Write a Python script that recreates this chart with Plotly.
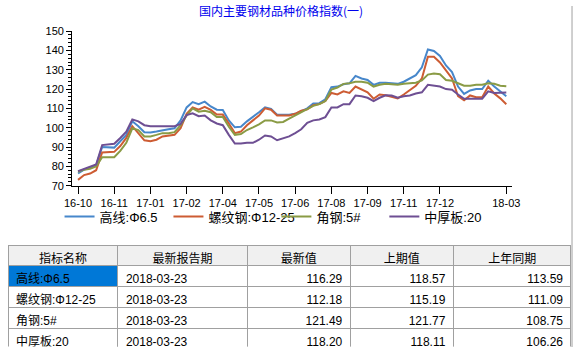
import plotly.graph_objects as go

# ---------------- data ----------------
series_names = ["高线:Φ6.5", "螺纹钢:Φ12-25", "角钢:5#", "中厚板:20"]

gaoxian = [76.3, 78.3, 79.3, 80.5, 90, 89.7, 89.7, 93, 96.3, 103.3, 100.8, 97.7, 97.5, 98, 98.8, 99.2,
           99.7, 103.8, 110.5, 113.3, 112.2, 113.5, 111, 109.3, 109.2, 103.8, 100.2, 100.5, 103.3, 105.5,
           108, 110.5, 109.7, 106.7, 106.7, 106.7, 107.2, 108.8, 110, 112.5, 112.7, 114.7, 121, 121.3,
           122.5, 123, 126.8, 125.5, 124.7, 122.2, 123.3, 123.3, 123, 122.7, 123.8, 125.5, 127.2, 131.3,
           140.5, 139.7, 137.2, 132.2, 128.8, 121.3, 117.5, 119.3, 120, 120, 124.3, 121.3, 118.57, 116.29]

luowen = [73, 75.5, 76.3, 78, 87.2, 87.5, 87.5, 90.5, 94.7, 100.8, 97.2, 93.5, 93, 93.8, 95.5, 96,
          96.3, 99.7, 107.2, 110.5, 109.3, 110.8, 109.2, 106.8, 106.8, 102.2, 97.2, 98, 101.3, 103.8,
          106.3, 110, 109.3, 106.3, 106.3, 106.3, 107.2, 108.8, 109.5, 111.7, 112.2, 113.8, 118, 117.2,
          118.8, 118, 121.3, 120, 118.3, 115, 117.2, 116.8, 116, 115.2, 117.2, 119.3, 121.7, 125.5,
          136.7, 136.7, 133.8, 129.7, 125.5, 116.3, 114.2, 116.7, 115.8, 115.8, 121.3, 117.7, 115.19, 112.18]

jiaogang = [77.2, 78.3, 78.8, 80, 84.7, 84.7, 84.7, 88, 92.2, 99.7, 98.8, 95.5, 95.5, 96.3, 97.2, 97.2,
            97.7, 101.3, 106.3, 110, 108.3, 108.8, 108, 105.5, 105.5, 100.5, 96.3, 96.7, 98.8, 100.2,
            101.7, 103.8, 103.8, 102.7, 103, 104.7, 106.3, 108, 109.4, 111.3, 112.2, 113.8, 119.7, 120.8,
            122.7, 123, 123.8, 123.8, 123.3, 121.3, 122.2, 122.7, 122.5, 122.2, 122.7, 123, 123.3, 124.5,
            127.5, 128, 127.7, 124.7, 124.3, 123, 121.7, 121.7, 122.2, 122.2, 123, 122.7, 121.77, 121.49]

zhonghouban = [77.5, 78.8, 79.7, 81, 91, 91.3, 91.7, 94.7, 98, 104.3, 103.3, 101.3, 100.8, 100.8, 100.8, 100.8,
               100.8, 102, 106.5, 107.5, 106, 106.3, 103.8, 102.2, 101.3, 96.3, 91.8, 91.8, 92.2, 92.2,
               93.8, 96, 95.5, 93.5, 94.3, 95.5, 97.2, 99.2, 102.5, 103.8, 104.3, 105.5, 110.5, 110.5,
               112.2, 112.2, 116.7, 116.3, 115.5, 113.8, 115.5, 116.8, 116.7, 115.5, 116.3, 116.7, 117.7, 118.3,
               122.2, 121.7, 121.3, 120, 119.7, 117.2, 115, 115, 115, 115, 118.8, 118, 118.11, 118.20]

tick_index = [0, 6, 12, 18, 24, 30, 36, 42, 48, 54, 60, 71]
tick_labels = ["16-10", "16-11", "17-01", "17-02", "17-04", "17-05", "17-06",
               "17-08", "17-09", "17-11", "17-12", "18-03"]

table_header = ["指标名称", "最新报告期", "最新值", "上期值", "上年同期"]
table_names = ["高线:Φ6.5", "螺纹钢:Φ12-25", "角钢:5#", "中厚板:20"]
table_dates = ["2018-03-23"] * 4
table_latest = ["116.29", "112.18", "121.49", "118.20"]
table_prev = ["118.57", "115.19", "121.77", "118.11"]
table_lastyear = ["113.59", "111.09", "108.75", "106.26"]

colors = ["#4787CB", "#CD5C33", "#8A9B45", "#6E4F93"]

# ---------------- figure ----------------
W, H = 581, 353
legend_ids = ["legend", "legend2", "legend3", "legend4"]
legend_left = [53, 165, 276, 387]

fig = go.Figure()
xs = list(range(len(gaoxian)))
for name, ys, c, lg in zip(series_names, [gaoxian, luowen, jiaogang, zhonghouban], colors, legend_ids):
    fig.add_trace(go.Scatter(x=xs, y=ys, mode="lines", name=name, legend=lg, showlegend=True,
                             line=dict(color=c, width=2), hoverinfo="skip"))

fig.add_trace(go.Table(
    domain=dict(x=[0, 579 / W], y=[0, 105 / H]),
    columnwidth=[113, 133, 106, 106, 121],
    header=dict(values=table_header, height=20,
                fill=dict(color="#F0F0F0"),
                line=dict(color="#A0A0A0", width=1),
                align="center",
                font=dict(family="Noto Sans CJK SC", size=12, color="black")),
    cells=dict(values=[table_names, table_dates, table_latest, table_prev, table_lastyear],
               height=21,
               fill=dict(color=[["#0078D7", "white", "white", "white"], "white", "white", "white", "white"]),
               line=dict(color="#A0A0A0", width=1),
               align=["left", "left", "right", "right", "right"],
               font=dict(family="Liberation Sans, Noto Sans CJK SC", size=12, color="black")),
))

legend_font = dict(family="Liberation Sans, Noto Sans CJK SC", size=13, color="black")
legends = {}
for lg, lx in zip(legend_ids, legend_left):
    legends[lg] = dict(orientation="h", x=lx / W, y=(H - 218) / H, xanchor="left", yanchor="middle",
                       font=legend_font, bgcolor="rgba(0,0,0,0)", itemwidth=30)

fig.update_layout(
    width=W, height=H,
    margin=dict(l=0, r=0, t=0, b=0),
    showlegend=True,
    paper_bgcolor="white", plot_bgcolor="white",
    title=dict(text="国内主要钢材品种价格指数(一)", x=281 / W, y=(H - 12) / H,
               xanchor="center", yanchor="middle",
               font=dict(family="Noto Sans CJK SC", size=12, color="#0000EE")),
    xaxis=dict(domain=[66 / W, 518 / W], range=[-0.97, 71.9],
               showgrid=False, zeroline=False, showline=True, linecolor="black", linewidth=1,
               ticks="outside", ticklen=7, tickcolor="black",
               tickvals=tick_index, ticktext=tick_labels,
               tickfont=dict(family="Liberation Sans", size=11, color="black")),
    yaxis=dict(domain=[(H - 186) / H, (H - 26) / H], range=[70, 150],
               showgrid=False, zeroline=False, showline=True, linecolor="black", linewidth=1,
               ticks="outside", ticklen=5, tickcolor="black", dtick=10,
               minor=dict(dtick=2, ticks="outside", ticklen=3, tickcolor="black"),
               tickfont=dict(family="Liberation Sans", size=11, color="black")),
    shapes=[dict(type="line", xref="paper", yref="paper", x0=580 / W, x1=580 / W, y0=0, y1=1,
                 line=dict(color="#A0A0A0", width=1))],
    **legends,
)

fig.write_html("out.html")
